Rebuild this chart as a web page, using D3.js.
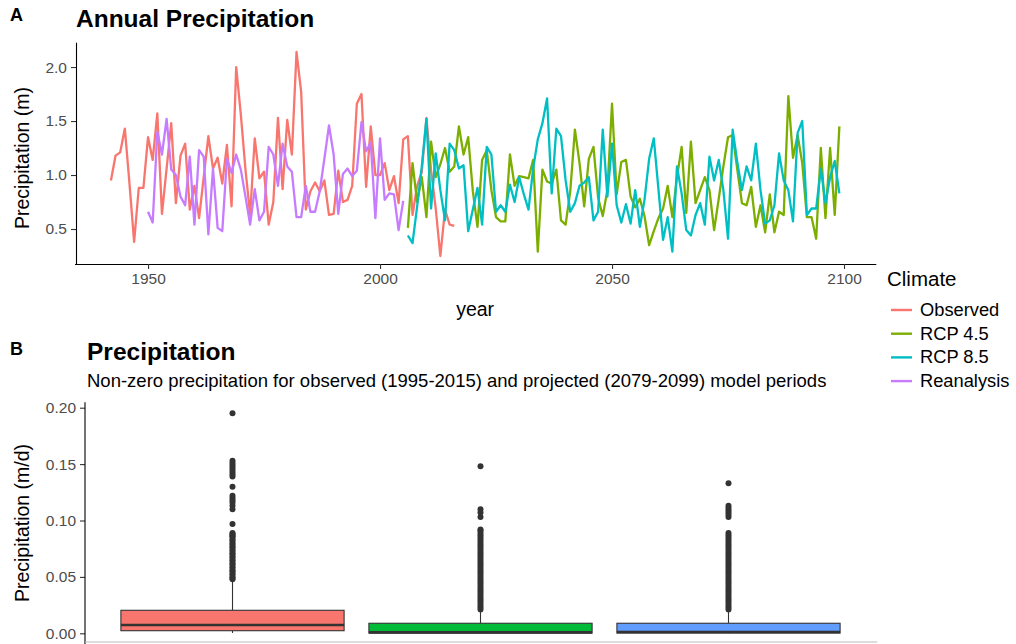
<!DOCTYPE html>
<html>
<head>
<meta charset="utf-8">
<script src="https://cdn.jsdelivr.net/npm/d3@7"></script>
<style>
  body { margin: 0; background: #fff; }
  svg { display: block; }
  text { font-family: "Liberation Sans", Arial, sans-serif; }
</style>
</head>
<body>
<svg id="chart" width="1016" height="644"></svg>
<script>
// ---------- Panel A: annual precipitation (m) ----------
const observedStart = 1942;
const observedValues = [
  0.95, 1.18, 1.21, 1.43, 0.92, 0.38, 0.88, 0.88, 1.35, 1.14,
  1.57, 0.64, 1.06, 1.48, 0.74, 1.18, 1.29, 0.68, 0.90, 0.60,
  0.98, 1.36, 1.06, 1.16, 0.92, 1.28, 0.71, 2.00, 1.56, 1.05,
  0.63, 1.34, 0.97, 1.03, 0.54, 0.75, 1.53, 0.87, 1.51, 1.19,
  2.14, 1.77, 0.68, 0.85, 0.93, 0.85, 0.95, 0.63, 0.64, 1.04,
  0.75, 0.77, 0.90, 1.66, 1.75, 0.89, 1.45, 1.00, 1.00, 1.11,
  0.86, 0.99, 0.74, 1.33, 1.36, 0.63, 0.90, 1.03, 1.53, 1.04,
  0.69, 0.25, 0.68, 0.54, 0.53
];
const reanalysisStart = 1950;
const reanalysisValues = [
  0.66, 0.56, 1.40, 1.19, 1.52, 1.05, 1.00, 0.80, 0.72, 1.17,
  0.54, 1.23, 1.17, 0.45, 1.06, 0.51, 0.48, 1.15, 1.02, 1.19,
  1.05, 0.80, 0.54, 0.87, 0.58, 0.66, 1.26, 1.19, 0.90, 1.29,
  1.08, 1.03, 0.61, 0.61, 0.90, 0.66, 0.66, 0.85, 1.15, 1.46,
  1.19, 0.64, 1.01, 1.06, 0.99, 1.04, 1.49, 1.22, 1.30, 0.60,
  1.34, 0.77, 0.83, 0.82, 0.49, 0.76
];
const rcp45Start = 2006;
const rcp45Values = [
  0.51, 1.11, 0.75, 0.98, 0.61, 1.31, 0.98, 1.10, 1.25, 1.03,
  1.08, 1.45, 1.19, 1.35, 0.85, 0.52, 1.14, 1.23, 0.86, 0.61,
  0.57, 0.57, 1.19, 0.90, 0.99, 0.98, 0.97, 1.14, 0.29, 1.05,
  0.94, 0.92, 1.05, 0.58, 0.54, 0.85, 1.42, 1.11, 0.71, 1.15,
  1.26, 0.79, 0.62, 0.86, 1.66, 0.82, 1.12, 1.14, 0.80, 0.70,
  0.78, 0.62, 0.35, 0.48, 0.60, 0.69, 0.90, 0.61, 0.98, 1.26,
  0.65, 1.31, 0.74, 0.86, 0.98, 0.86, 0.49, 0.78, 1.08, 1.35,
  1.37, 1.05, 0.74, 0.72, 0.89, 0.52, 0.72, 0.47, 0.82, 0.47,
  0.66, 0.63, 1.73, 1.16, 1.37, 1.11, 0.61, 0.61, 0.41, 1.25,
  0.60, 1.25, 0.63, 1.45
];
const rcp85Start = 2006;
const rcp85Values = [
  0.44, 0.37, 0.71, 1.08, 1.52, 0.69, 1.20, 0.86, 0.58, 1.29,
  1.23, 1.06, 1.09, 0.48, 0.68, 0.88, 0.54, 1.26, 1.19, 0.66,
  0.72, 0.66, 0.91, 0.75, 0.98, 0.82, 0.68, 1.06, 1.33, 1.48,
  1.71, 0.83, 1.43, 1.36, 0.95, 0.66, 0.74, 0.90, 0.93, 0.98,
  0.58, 0.66, 1.42, 0.80, 1.29, 0.72, 0.56, 0.73, 0.55, 0.86,
  0.52, 0.77, 1.15, 1.34, 0.87, 0.40, 0.61, 0.29, 1.08, 0.83,
  0.49, 0.44, 0.63, 0.74, 0.54, 1.17, 0.95, 1.14, 0.86, 0.41,
  1.42, 1.12, 0.86, 1.08, 0.95, 1.29, 0.86, 0.55, 0.58, 0.72,
  1.20, 0.95, 0.86, 0.57, 1.39, 1.50, 0.63, 0.69, 0.69, 1.06,
  0.74, 0.98, 1.13, 0.83
];
const climateNames = ["Observed", "RCP 4.5", "RCP 8.5", "Reanalysis"];
const climateColors = ["#F8766D", "#7CAE00", "#00BFC4", "#C77CFF"];
const yearTicks = [1950, 2000, 2050, 2100];
const annualTicks = [0.5, 1.0, 1.5, 2.0];

// ---------- Panel B: daily non-zero precipitation (m/d) ----------
const boxGroups = ["Observed", "RCP 4.5", "RCP 8.5"];
const boxFills = ["#F8766D", "#00BA38", "#619CFF"];
const boxLow = [0.0003, 0.0000, 0.0000];
const boxQ1 = [0.0023, 0.0002, 0.0002];
const boxMedian = [0.0074, 0.0008, 0.0012];
const boxQ3 = [0.0204, 0.0089, 0.0089];
const boxHigh = [0.047, 0.020, 0.020];
const outliersObserved = [
  0.195, 0.153, 0.151, 0.149, 0.147, 0.145, 0.143, 0.141, 0.139, 0.130,
  0.122, 0.120, 0.118, 0.116, 0.113, 0.110, 0.097,
  0.089, 0.088, 0.087, 0.086, 0.085, 0.083, 0.082, 0.080, 0.079, 0.077,
  0.076, 0.074, 0.073, 0.071, 0.070, 0.068, 0.067, 0.065, 0.064, 0.062,
  0.061, 0.059, 0.058, 0.056, 0.055, 0.053, 0.052, 0.050, 0.049, 0.048
];
const outliersRcp45 = [
  0.148, 0.110, 0.107, 0.103,
  0.092, 0.091, 0.089, 0.087, 0.085, 0.083, 0.081, 0.079, 0.077, 0.075,
  0.073, 0.071, 0.069, 0.067, 0.065, 0.063, 0.061, 0.059, 0.057, 0.055,
  0.053, 0.051, 0.049, 0.047, 0.045, 0.043, 0.041, 0.039, 0.037, 0.035,
  0.033, 0.031, 0.029, 0.027, 0.025, 0.023, 0.021
];
const outliersRcp85 = [
  0.133, 0.113, 0.111, 0.109, 0.107, 0.105, 0.103,
  0.089, 0.087, 0.085, 0.083, 0.081, 0.079, 0.077, 0.075, 0.073, 0.071,
  0.069, 0.067, 0.065, 0.063, 0.061, 0.059, 0.057, 0.055, 0.053, 0.051,
  0.049, 0.047, 0.045, 0.043, 0.041, 0.039, 0.037, 0.035, 0.033, 0.031,
  0.029, 0.027, 0.025, 0.023, 0.021
];
const dailyTicks = [0.00, 0.05, 0.10, 0.15, 0.20];

const svg = d3.select("#chart");
const tickColor = "#4D4D4D";

function styleAxis(g) {
  g.select(".domain").attr("stroke", "#000").attr("stroke-width", 1.1);
  g.selectAll(".tick line").attr("stroke", "#333").attr("stroke-width", 1.1);
  g.selectAll(".tick text").attr("fill", tickColor).style("font-size", "15.5px")
    .style("font-family", "'Liberation Sans', Arial, sans-serif");
}

// ===== Panel A =====
const xA = d3.scaleLinear().domain([1934.15, 2106.85]).range([74.5, 875.8]);
const yA = d3.scaleLinear().domain([0.175, 2.23]).range([264.1, 42.2]);
const leftA = 76, bottomA = 264;

const seriesA = [
  { start: observedStart, values: observedValues, color: climateColors[0] },
  { start: rcp45Start, values: rcp45Values, color: climateColors[1] },
  { start: rcp85Start, values: rcp85Values, color: climateColors[2] },
  { start: reanalysisStart, values: reanalysisValues, color: climateColors[3] }
];
const lineA = d3.line().x(d => xA(d[0])).y(d => yA(d[1]));
const linesG = svg.append("g");
seriesA.forEach(s => {
  const pts = s.values.map((v, i) => [s.start + i, v]);
  linesG.append("path").datum(pts)
    .attr("d", lineA).attr("fill", "none")
    .attr("stroke", s.color).attr("stroke-width", 2.3)
    .attr("stroke-linejoin", "round");
});

const axYA = svg.append("g").attr("transform", `translate(${leftA},0)`)
  .call(d3.axisLeft(yA).tickValues(annualTicks).tickFormat(d3.format(".1f")).tickSize(5).tickSizeOuter(0).tickPadding(4));
styleAxis(axYA);
const axXA = svg.append("g").attr("transform", `translate(0,${bottomA})`)
  .call(d3.axisBottom(xA).tickValues(yearTicks).tickFormat(d3.format("d")).tickSize(5).tickSizeOuter(0).tickPadding(4));
styleAxis(axXA);

svg.append("text").attr("x", 10).attr("y", 21).text("A")
  .style("font-weight", "bold").style("font-size", "18px");
svg.append("text").attr("x", 76).attr("y", 27).text("Annual Precipitation")
  .style("font-weight", "bold").style("font-size", "24.5px");
svg.append("text").attr("transform", `translate(29,158) rotate(-90)`)
  .attr("text-anchor", "middle").text("Precipitation (m)").style("font-size", "19.5px");
svg.append("text").attr("x", xA(2020.5)).attr("y", 316).attr("text-anchor", "middle")
  .text("year").style("font-size", "19.5px");

// legend
const leg = svg.append("g").attr("transform", "translate(887,0)");
leg.append("text").attr("x", 0).attr("y", 286).text("Climate").style("font-size", "20.5px");
climateNames.forEach((name, i) => {
  const cy = 310 + i * 23.7;
  leg.append("line").attr("x1", 4).attr("x2", 25).attr("y1", cy).attr("y2", cy)
    .attr("stroke", climateColors[i]).attr("stroke-width", 2.4);
  leg.append("text").attr("x", 33).attr("y", cy + 6).text(name).style("font-size", "18.3px");
});

// ===== Panel B =====
const xB = d3.scaleBand().domain(boxGroups).range([83.7, 877.3]).paddingInner(0).paddingOuter(0.1);
const yB = d3.scaleLinear().domain([0, 0.20]).range([633.3, 407.7]);
const leftB = 85;

svg.append("text").attr("x", 10).attr("y", 355).text("B")
  .style("font-weight", "bold").style("font-size", "18px");
svg.append("text").attr("x", 87).attr("y", 360).text("Precipitation")
  .style("font-weight", "bold").style("font-size", "24.5px");
svg.append("text").attr("x", 87).attr("y", 387)
  .text("Non-zero precipitation for observed (1995-2015) and projected (2079-2099) model periods")
  .style("font-size", "18.5px");
svg.append("text").attr("transform", `translate(29,523) rotate(-90)`)
  .attr("text-anchor", "middle").text("Precipitation (m/d)").style("font-size", "19.5px");

const outlierSets = [outliersObserved, outliersRcp45, outliersRcp85];
const boxG = svg.append("g");
boxGroups.forEach((g, i) => {
  const cx = xB(g) + xB.bandwidth() / 2;
  const w = xB.bandwidth() * 0.9;
  // whiskers
  boxG.append("line").attr("x1", cx).attr("x2", cx)
    .attr("y1", yB(boxHigh[i])).attr("y2", yB(boxQ3[i]))
    .attr("stroke", "#333").attr("stroke-width", 1.1);
  boxG.append("line").attr("x1", cx).attr("x2", cx)
    .attr("y1", yB(boxQ1[i])).attr("y2", yB(boxLow[i]))
    .attr("stroke", "#333").attr("stroke-width", 1.1);
  // box
  boxG.append("rect").attr("x", cx - w / 2).attr("width", w)
    .attr("y", yB(boxQ3[i])).attr("height", yB(boxQ1[i]) - yB(boxQ3[i]))
    .attr("fill", boxFills[i]).attr("stroke", "#333").attr("stroke-width", 1.1);
  boxG.append("line").attr("x1", cx - w / 2).attr("x2", cx + w / 2)
    .attr("y1", yB(boxMedian[i])).attr("y2", yB(boxMedian[i]))
    .attr("stroke", "#333").attr("stroke-width", 2.6);
  // outliers
  boxG.selectAll(null).data(outlierSets[i]).enter().append("circle")
    .attr("cx", cx).attr("cy", d => yB(d)).attr("r", 3)
    .attr("fill", "#333");
});

const axYB = svg.append("g").attr("transform", `translate(${leftB},0)`)
  .call(d3.axisLeft(yB).tickValues(dailyTicks).tickFormat(d3.format(".2f")).tickSize(5).tickSizeOuter(0).tickPadding(4));
styleAxis(axYB);
axYB.select(".domain").remove();
svg.append("line").attr("x1", leftB).attr("x2", leftB).attr("y1", 402.3).attr("y2", 644)
  .attr("stroke", "#000").attr("stroke-width", 1.1);
svg.append("line").attr("x1", leftB).attr("x2", 877.3).attr("y1", 642).attr("y2", 642)
  .attr("stroke", "#bbb").attr("stroke-width", 1.1);
</script>
</body>
</html>
